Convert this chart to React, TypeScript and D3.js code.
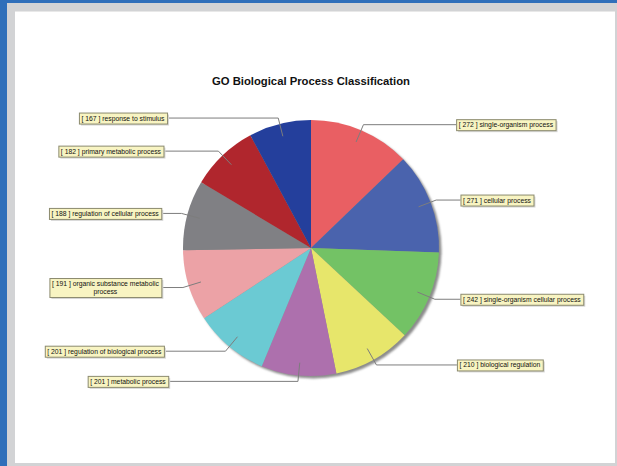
import React, { useEffect, useRef } from "react";
import * as d3 from "d3";

const categories = [
  "single-organism process",
  "cellular process",
  "single-organism cellular process",
  "biological regulation",
  "metabolic process",
  "regulation of biological process",
  "organic substance metabolic process",
  "regulation of cellular process",
  "primary metabolic process",
  "response to stimulus",
];
const counts = [272, 271, 242, 210, 201, 201, 191, 188, 182, 167];
const colors = [
  "#e95f63",
  "#4a63ad",
  "#73c265",
  "#e7e66b",
  "#ad70ad",
  "#6bcad3",
  "#eca2a6",
  "#808084",
  "#b0262d",
  "#243f9c",
];
const title = "GO Biological Process Classification";

const W = 617;
const H = 466;

function wrapWords(s: string, maxChars: number): string[] {
  const words = s.split(" ");
  const lines: string[] = [];
  let cur = "";
  for (const w of words) {
    const t = cur ? cur + " " + w : w;
    if (t.length > maxChars && cur) {
      lines.push(cur);
      cur = w;
    } else cur = t;
  }
  if (cur) lines.push(cur);
  return lines;
}

export default function App() {
  const ref = useRef<SVGSVGElement | null>(null);

  useEffect(() => {
    const svg = d3.select(ref.current);
    svg.selectAll("*").remove();

    // frame
    svg.append("rect").attr("x", 0).attr("y", 0).attr("width", W).attr("height", H).attr("fill", "#2f6fba");
    svg.append("rect").attr("x", 7).attr("y", 3).attr("width", W - 7).attr("height", H - 3).attr("fill", "#d2d3d5");
    svg.append("rect").attr("x", 15).attr("y", 11).attr("width", 600).attr("height", 452).attr("fill", "#ffffff");
    svg.append("line").attr("x1", 15).attr("x2", 615).attr("y1", 11.5).attr("y2", 11.5).attr("stroke", "#e8e8e8");

    // title
    svg
      .append("text")
      .attr("x", 311)
      .attr("y", 85)
      .attr("text-anchor", "middle")
      .attr("font-family", "'Liberation Sans', Arial, sans-serif")
      .attr("font-weight", "bold")
      .attr("font-size", 11)
      .attr("textLength", 198)
      .attr("lengthAdjust", "spacingAndGlyphs")
      .attr("fill", "#111")
      .text(title);

    const cx = 311;
    const cy = 248;
    const r = 128;

    const data = categories.map((c, i) => ({ name: c, value: counts[i], color: colors[i] }));
    const pie = d3
      .pie<any>()
      .sort(null)
      .value((d: any) => d.value)
      .startAngle(0)
      .endAngle(2 * Math.PI);
    const arcs = pie(data);
    const arc = d3.arc<any>().innerRadius(0).outerRadius(r);

    const g = svg.append("g").attr("transform", `translate(${cx},${cy})`);

    const defs = svg.append("defs");
    const f = defs.append("filter").attr("id", "blur").attr("x", "-10%").attr("y", "-10%").attr("width", "120%").attr("height", "120%");
    f.append("feGaussianBlur").attr("stdDeviation", 0.8);

    g.append("circle").attr("cx", 2.5).attr("cy", 2.5).attr("r", r).attr("fill", "#8c8c8c").attr("filter", "url(#blur)");

    g.selectAll("path.slice")
      .data(arcs)
      .enter()
      .append("path")
      .attr("class", "slice")
      .attr("d", arc as any)
      .attr("fill", (d: any) => d.data.color);

    // labels
    const lg = svg.append("g");
    arcs.forEach((a: any) => {
      const mid = (a.startAngle + a.endAngle) / 2;
      const s = Math.sin(mid);
      const c = Math.cos(mid);
      const right = s >= 0;
      const p1 = [cx + 0.9 * r * s, cy - 0.9 * r * c];
      const p2 = [cx + 1.047 * r * s, cy - 1.047 * r * c];
      const dist = 142 + 8 * Math.abs(s);
      const edgeX = right ? cx + dist : cx - dist;
      const ly = p2[1];

      lg.append("polyline")
        .attr("points", `${p1[0]},${p1[1]} ${p2[0]},${p2[1]} ${edgeX},${ly}`)
        .attr("fill", "none")
        .attr("stroke", "#7d7d7d")
        .attr("stroke-width", 1);

      const lines = wrapWords(`[ ${a.data.value} ] ${a.data.name}`, 41);
      const lineH = 8;
      const boxH = lines.length === 1 ? 11 : 19;
      const bg = lg.append("g");
      const rect = bg.append("rect");
      const shadow = bg.insert("rect", ":first-child");
      const texts = lines.map((t, i) =>
        bg
          .append("text")
          .attr("font-family", "'Liberation Sans', Arial, sans-serif")
          .attr("font-size", 6.8)
          .attr("fill", "#111")
          .attr("text-anchor", "middle")
          .attr("y", ly - boxH / 2 + 8 + i * lineH)
          .text(t)
      );
      let tw = 0;
      texts.forEach((t) => {
        const n = t.node() as SVGTextElement;
        tw = Math.max(tw, n.getComputedTextLength());
      });
      const bw = tw + 5;
      const bx = right ? edgeX : edgeX - bw;
      texts.forEach((t) => t.attr("x", bx + bw / 2));
      rect
        .attr("x", bx + 0.5)
        .attr("y", ly - boxH / 2 + 0.5)
        .attr("width", bw)
        .attr("height", boxH)
        .attr("fill", "#f8f4c2")
        .attr("stroke", "#8b8a6e")
        .attr("stroke-width", 1);
      shadow
        .attr("x", bx + 2)
        .attr("y", ly - boxH / 2 + 2)
        .attr("width", bw)
        .attr("height", boxH)
        .attr("fill", "#d8d8d8");
    });
  }, []);

  return (
    <svg
      ref={ref}
      width={W}
      height={H}
      style={{ position: "absolute", left: 0, top: 0, display: "block" }}
    />
  );
}
